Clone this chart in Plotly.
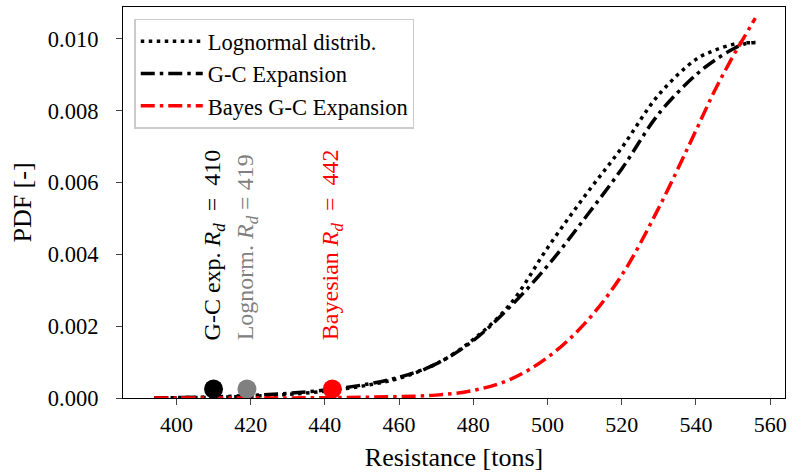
import plotly.graph_objects as go

# Data
x_vals = [394, 400, 410, 420, 430, 440, 450, 460, 470, 480, 490, 500, 510, 520, 530, 540, 545, 550, 553, 556]
lognormal = [0.00000, 0.00001, 0.00002, 0.00005, 0.00010, 0.00019, 0.00033, 0.00055, 0.00095, 0.00163,
             0.00262, 0.00418, 0.00562, 0.00697, 0.00845, 0.00943, 0.00968, 0.00985, 0.00989, 0.00990]
gc_exp = [0.00000, 0.00001, 0.00003, 0.00007, 0.00013, 0.00022, 0.00036, 0.00058, 0.00095, 0.00160,
          0.00255, 0.00368, 0.00500, 0.00638, 0.00792, 0.00900, 0.00940, 0.00972, 0.00986, 0.00990]
bayes_gc = [0.00000, 0.00000, 0.00000, 0.00000, 0.00000, 0.00001, 0.00002, 0.00004, 0.00008, 0.00021,
            0.00052, 0.00113, 0.00207, 0.00342, 0.00530, 0.00745, 0.00855, 0.00952, 0.01005, 0.01058]

design_x = [410, 419, 442]
design_y = [0.00025, 0.00025, 0.00025]
design_colors = ["black", "gray", "red"]
design_labels = ["G-C exp. <i>R</i><sub><i>d</i></sub>&nbsp;&nbsp;=&nbsp;&nbsp;410",
                 "Lognorm. <i>R</i><sub><i>d</i></sub>&nbsp;=&nbsp;419",
                 "Bayesian <i>R</i><sub><i>d</i></sub>&nbsp;&nbsp;=&nbsp;&nbsp;442"]

FONT = "Liberation Serif"

fig = go.Figure()
fig.add_trace(go.Scatter(x=x_vals, y=lognormal, mode="lines", name="Lognormal distrib.",
                         line=dict(color="black", width=3.5, dash="3.5px,4.5px", shape="spline")))
fig.add_trace(go.Scatter(x=x_vals, y=gc_exp, mode="lines", name="G-C Expansion",
                         line=dict(color="black", width=3.5, dash="14px,5px,3.5px,5px", shape="spline")))
fig.add_trace(go.Scatter(x=x_vals, y=bayes_gc, mode="lines", name="Bayes G-C Expansion",
                         line=dict(color="red", width=3.5, dash="14px,5px,3.5px,5px", shape="spline")))
fig.add_trace(go.Scatter(x=design_x, y=design_y, mode="markers", showlegend=False,
                         marker=dict(color=design_colors, size=19, line=dict(width=0))))

for xv, lab, col in zip(design_x, design_labels, design_colors):
    fig.add_annotation(x=xv, y=0.00155, text=lab, textangle=-90, showarrow=False,
                       xanchor="center", yanchor="bottom",
                       font=dict(family=FONT, size=24, color=col))

fig.update_layout(
    width=793, height=474,
    margin=dict(l=123, r=6, t=7, b=76),
    plot_bgcolor="white", paper_bgcolor="white",
    font=dict(family=FONT, size=22, color="black"),
    legend=dict(x=0.017, y=0.97, xanchor="left", yanchor="top",
                bgcolor="rgba(255,255,255,0.8)", bordercolor="#cccccc", borderwidth=1.5,
                font=dict(family=FONT, size=22.5), itemwidth=62, tracegroupgap=0),
    xaxis=dict(range=[385.6, 564.0], tickmode="array", tickvals=[400, 420, 440, 460, 480, 500, 520, 540, 560],
               ticks="outside", ticklen=6, tickwidth=1.2, showline=True, linecolor="black", linewidth=1.2,
               mirror=True, showgrid=False, zeroline=False,
               title=dict(text="Resistance [tons]", standoff=12), tickfont=dict(size=22)),
    yaxis=dict(range=[0, 0.01089], tickmode="array", tickvals=[0, 0.002, 0.004, 0.006, 0.008, 0.010],
               tickformat=".3f", ticks="outside", ticklen=6, tickwidth=1.2, showline=True, linecolor="black",
               linewidth=1.2, mirror=True, showgrid=False, zeroline=False, ticklabelstandoff=13,
               title=dict(text="PDF [-]", standoff=8), tickfont=dict(size=22.5)),
)

fig.write_html("out.html")
